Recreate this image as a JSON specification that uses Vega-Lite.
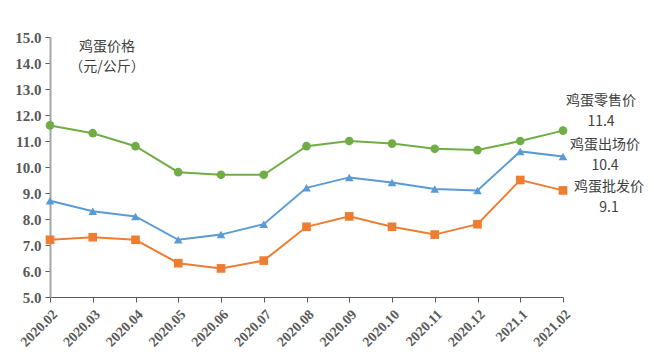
{
  "$schema": "https://vega.github.io/schema/vega-lite/v6.json",
  "width": 513,
  "height": 260,
  "autosize": {"type": "none"},
  "padding": {"left": 50, "top": 37, "right": 91, "bottom": 64},
  "background": "white",
  "config": {"view": {"stroke": null}},
  "data": {
    "values": [
      {"month": "2020.02", "series": "鸡蛋零售价", "price": 11.6},
      {"month": "2020.03", "series": "鸡蛋零售价", "price": 11.3},
      {"month": "2020.04", "series": "鸡蛋零售价", "price": 10.8},
      {"month": "2020.05", "series": "鸡蛋零售价", "price": 9.8},
      {"month": "2020.06", "series": "鸡蛋零售价", "price": 9.7},
      {"month": "2020.07", "series": "鸡蛋零售价", "price": 9.7},
      {"month": "2020.08", "series": "鸡蛋零售价", "price": 10.8},
      {"month": "2020.09", "series": "鸡蛋零售价", "price": 11.0},
      {"month": "2020.10", "series": "鸡蛋零售价", "price": 10.9},
      {"month": "2020.11", "series": "鸡蛋零售价", "price": 10.7},
      {"month": "2020.12", "series": "鸡蛋零售价", "price": 10.65},
      {"month": "2021.1", "series": "鸡蛋零售价", "price": 11.0},
      {"month": "2021.02", "series": "鸡蛋零售价", "price": 11.4},
      {"month": "2020.02", "series": "鸡蛋出场价", "price": 8.7},
      {"month": "2020.03", "series": "鸡蛋出场价", "price": 8.3},
      {"month": "2020.04", "series": "鸡蛋出场价", "price": 8.1},
      {"month": "2020.05", "series": "鸡蛋出场价", "price": 7.2},
      {"month": "2020.06", "series": "鸡蛋出场价", "price": 7.4},
      {"month": "2020.07", "series": "鸡蛋出场价", "price": 7.8},
      {"month": "2020.08", "series": "鸡蛋出场价", "price": 9.2},
      {"month": "2020.09", "series": "鸡蛋出场价", "price": 9.6},
      {"month": "2020.10", "series": "鸡蛋出场价", "price": 9.4},
      {"month": "2020.11", "series": "鸡蛋出场价", "price": 9.15},
      {"month": "2020.12", "series": "鸡蛋出场价", "price": 9.1},
      {"month": "2021.1", "series": "鸡蛋出场价", "price": 10.6},
      {"month": "2021.02", "series": "鸡蛋出场价", "price": 10.4},
      {"month": "2020.02", "series": "鸡蛋批发价", "price": 7.2},
      {"month": "2020.03", "series": "鸡蛋批发价", "price": 7.3},
      {"month": "2020.04", "series": "鸡蛋批发价", "price": 7.2},
      {"month": "2020.05", "series": "鸡蛋批发价", "price": 6.3},
      {"month": "2020.06", "series": "鸡蛋批发价", "price": 6.1},
      {"month": "2020.07", "series": "鸡蛋批发价", "price": 6.4},
      {"month": "2020.08", "series": "鸡蛋批发价", "price": 7.7},
      {"month": "2020.09", "series": "鸡蛋批发价", "price": 8.1},
      {"month": "2020.10", "series": "鸡蛋批发价", "price": 7.7},
      {"month": "2020.11", "series": "鸡蛋批发价", "price": 7.4},
      {"month": "2020.12", "series": "鸡蛋批发价", "price": 7.8},
      {"month": "2021.1", "series": "鸡蛋批发价", "price": 9.5},
      {"month": "2021.02", "series": "鸡蛋批发价", "price": 9.1}
    ]
  },
  "encoding": {
    "x": {
      "field": "month",
      "type": "ordinal",
      "sort": null,
      "scale": {"type": "point", "padding": 0},
      "axis": {
        "title": null,
        "labelAngle": -45,
        "labelAlign": "right",
        "labelBaseline": "top",
        "labelFont": "Liberation Serif",
        "labelFontWeight": "bold",
        "labelFontSize": 14,
        "labelColor": "#595959",
        "labelPadding": 5,
        "domainColor": "#595959",
        "tickColor": "#595959",
        "tickSize": 5,
        "grid": false
      }
    },
    "y": {
      "field": "price",
      "type": "quantitative",
      "scale": {"domain": [5, 15], "nice": false, "zero": false},
      "axis": {
        "title": null,
        "values": [5, 6, 7, 8, 9, 10, 11, 12, 13, 14, 15],
        "format": ".1f",
        "labelFont": "Liberation Serif",
        "labelFontWeight": "bold",
        "labelFontSize": 15,
        "labelColor": "#595959",
        "labelPadding": 4,
        "domainColor": "#A6A6A6",
        "domainWidth": 2,
        "tickColor": "#595959",
        "tickSize": 5,
        "grid": false
      }
    },
    "color": {
      "field": "series",
      "type": "nominal",
      "scale": {"domain": ["鸡蛋零售价", "鸡蛋出场价", "鸡蛋批发价"], "range": ["#70AD47", "#5B9BD5", "#ED7D31"]},
      "legend": null
    }
  },
  "layer": [
    {
      "mark": {"type": "line", "strokeWidth": 2}
    },
    {
      "mark": {"type": "point", "filled": true, "opacity": 1, "size": 75},
      "encoding": {
        "shape": {
          "field": "series",
          "type": "nominal",
          "scale": {"domain": ["鸡蛋零售价", "鸡蛋出场价", "鸡蛋批发价"], "range": ["circle", "triangle-up", "square"]},
          "legend": null
        }
      }
    },
    {
      "transform": [{"filter": "datum.month == '2020.02' && datum.series == '鸡蛋零售价'"}],
      "mark": {"type": "text", "lineBreak": "\n", "lineHeight": 20, "font": "Noto Sans CJK SC", "fontSize": 14, "dx": 57, "baseline": "middle", "align": "center"},
      "encoding": {"text": {"value": "鸡蛋价格\n（元/公斤）"}, "y": {"datum": 14.6}, "color": {"value": "#404040"}}
    },
    {
      "transform": [{"filter": "datum.month == '2021.02' && datum.series == '鸡蛋零售价'"}],
      "mark": {"type": "text", "lineBreak": "\n", "lineHeight": 21, "font": "Noto Sans CJK SC", "fontSize": 14, "dx": 38, "dy": -30, "baseline": "middle", "align": "center"},
      "encoding": {"text": {"value": "鸡蛋零售价\n11.4"}, "color": {"value": "#404040"}}
    },
    {
      "transform": [{"filter": "datum.month == '2021.02' && datum.series == '鸡蛋出场价'"}],
      "mark": {"type": "text", "lineBreak": "\n", "lineHeight": 21, "font": "Noto Sans CJK SC", "fontSize": 14, "dx": 42, "dy": -12, "baseline": "middle", "align": "center"},
      "encoding": {"text": {"value": "鸡蛋出场价\n10.4"}, "color": {"value": "#404040"}}
    },
    {
      "transform": [{"filter": "datum.month == '2021.02' && datum.series == '鸡蛋批发价'"}],
      "mark": {"type": "text", "lineBreak": "\n", "lineHeight": 21, "font": "Noto Sans CJK SC", "fontSize": 14, "dx": 46, "dy": -3, "baseline": "middle", "align": "center"},
      "encoding": {"text": {"value": "鸡蛋批发价\n9.1"}, "color": {"value": "#404040"}}
    }
  ]
}
